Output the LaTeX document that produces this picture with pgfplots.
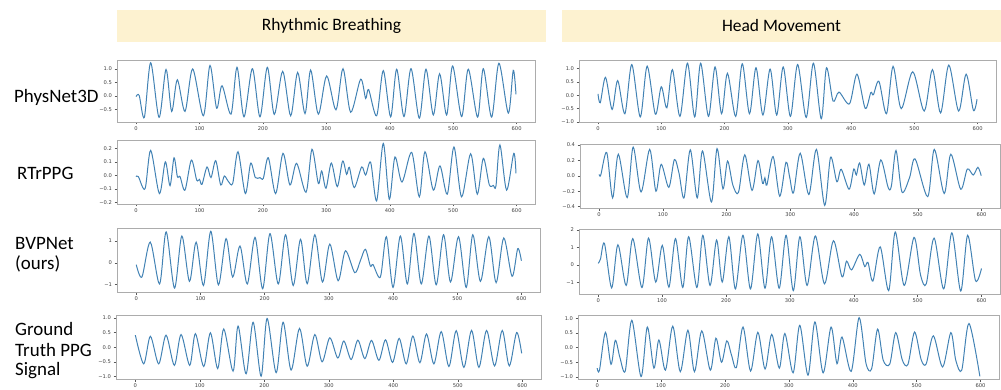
\documentclass[border=0pt]{standalone}
\usepackage{fontspec}
\setmainfont{Carlito}
\newfontfamily\tickfont{DejaVu Sans}
\usepackage{pgfplots}
\pgfplotsset{compat=1.18}
\definecolor{mplblue}{RGB}{66,130,180}
\definecolor{beige}{RGB}{253,242,208}
\tikzset{sig/.style={mplblue, line width=1bp, smooth, mark=none}}
\pgfplotsset{
  mini/.style={
    scale only axis, anchor=south west,
    xmin=-30, xmax=629,
    xtick={0,100,200,300,400,500,600},
    xticklabels={0,100,200,300,400,500,600},
    axis line style={gray!65, line width=0.6pt},
    tick style={gray!70!black, line width=0.4pt},
    tick align=outside, major tick length=2.5bp,
    xtick pos=bottom, ytick pos=left,
    ticklabel style={font=\tickfont\fontsize{5.2}{6}\selectfont, text=black!75},
    xticklabel style={yshift=1bp},
    yticklabel style={xshift=1bp},
  }
}
\begin{document}
\begin{tikzpicture}[x=1bp,y=1bp]
\path[use as bounding box] (0,0) rectangle (1001,389);
\fill[beige] (117,347) rectangle (546,379);
\fill[beige] (562,347) rectangle (1001,379);
\node[font=\fontsize{17.5}{20}\selectfont] at (331.5,363) {Rhythmic Breathing};
\node[font=\fontsize{17.5}{20}\selectfont] at (781.5,363) {Head Movement};

\begin{scope}[every node/.style={anchor=west, font=\fontsize{19}{22}\selectfont, inner sep=0pt}]
\node at (14,292) {PhysNet3D};
\node at (17,216) {RTrPPG};
\node at (15,146) {BVPNet};
\node at (15,125) {(ours)};
\node at (15,60) {Ground};
\node at (15,39) {Truth PPG};
\node at (15,18) {Signal};
\end{scope}

% Row 1 left: PhysNet3D, Rhythmic Breathing
\begin{axis}[mini, at={(117bp,267bp)}, width=418bp, height=62bp,
  ymin=-0.96, ymax=1.33, ytick={-0.5,0,0.5,1}, yticklabels={−0.5,0.0,0.5,1.0}]
\addplot[sig] coordinates {(0,-0.02) (5,0.02) (13.1,-0.79) (23.1,1.23) (36.3,-0.79) (47.3,0.98) (56.2,-0.57) (65.1,0.60) (77.2,-0.57) (89.3,1.00) (106.1,-0.73) (116.6,1.13) (127.1,-0.45) (135.6,0.38) (149.7,-0.67) (159.2,1.06) (170.2,-0.77) (183.4,1.01) (195.4,-0.77) (207,1.06) (218,-0.68) (231.2,0.91) (243.8,-0.73) (254.8,0.87) (266.4,-0.65) (275.3,0.96) (287.4,-0.67) (300.5,0.74) (315.2,-0.51) (326.3,1.01) (338.4,-0.60) (354.1,0.62) (362,-0.09) (366.7,0.24) (379.3,-0.73) (389.8,0.94) (401.4,-0.77) (410.9,0.99) (422.4,-0.76) (433.5,1.01) (446.6,-0.82) (457.1,0.99) (468.7,-0.70) (478.6,0.82) (489.7,-0.70) (499.1,1.11) (513.3,-0.76) (523.8,0.99) (538.5,-0.78) (547.5,1.01) (560.6,-0.78) (572.1,1.21) (586.9,-0.63) (594.7,0.95) (599,0.06)};
\end{axis}

% Row 1 right: PhysNet3D, Head Movement
\begin{axis}[mini, at={(579bp,267bp)}, width=417bp, height=62bp,
  ymin=-1.0, ymax=1.32, ytick={-1,-0.5,0,0.5,1}, yticklabels={−1.0,−0.5,0.0,0.5,1.0}]
\addplot[sig] coordinates {(0,0.05) (3.6,-0.28) (11.9,0.67) (22.3,-0.53) (31.1,0.55) (42.5,-0.69) (53.4,1.15) (66.8,-0.81) (77.7,1.09) (90.7,-0.71) (100,0.32) (108.8,-0.47) (117.6,0.96) (129.5,-0.79) (141.4,1.20) (152.8,-0.81) (162.2,1.20) (174.6,-0.79) (185,1.06) (195.3,-0.69) (204.6,0.82) (217.6,-0.79) (228,1.18) (239.4,-0.69) (249.7,1.03) (260.6,-0.74) (272,0.98) (282.4,-0.74) (292.7,1.06) (304.1,-0.79) (315.5,1.15) (329,-0.83) (340.4,1.20) (352.8,-0.88) (361.1,1.03) (371.5,-0.22) (380.8,0.12) (397.4,-0.32) (409.3,0.79) (422.3,-0.49) (431.1,0.10) (435.2,0.02) (444,0.52) (455.9,-0.69) (466.3,1.08) (479.2,-0.50) (497.4,0.88) (515.5,-0.59) (528.5,0.96) (541.4,-0.66) (554.4,1.13) (569.9,-0.59) (581.8,0.79) (593.2,-0.56) (599,-0.15)};
\end{axis}

% Row 2 left: RTrPPG
\begin{axis}[mini, at={(117bp,185bp)}, width=418bp, height=64bp,
  ymin=-0.213, ymax=0.262, ytick={-0.2,-0.1,0,0.1,0.2}, yticklabels={−0.2,−0.1,0.0,0.1,0.2}]
\addplot[sig] coordinates {(0,-0.01) (3.7,-0.01) (14.2,-0.10) (23.1,0.185) (36.8,-0.136) (46.2,0.10) (53.6,-0.077) (59.9,0.13) (65.2,-0.01) (69.4,-0.01) (77.2,-0.11) (87.2,0.113) (95.6,-0.035) (100,-0.03) (104,-0.067) (111.9,0.062) (118.2,-0.017) (125.6,0.109) (133.5,-0.072) (139.2,-0.005) (145.5,-0.045) (152.4,-0.06) (160.8,0.175) (172.3,-0.136) (180.7,0.09) (188.1,-0.017) (195.4,-0.017) (200.7,-0.022) (208.6,0.13) (220.1,-0.136) (231.7,0.163) (242.7,-0.072) (253.2,0.089) (268,-0.126) (277.4,0.193) (287.4,-0.06) (292.7,0.032) (299.5,-0.096) (307.9,0.091) (317.3,-0.084) (325.7,0.106) (332,0.007) (336.3,0.059) (344.1,-0.091) (355.7,0.062) (362,0.002) (369.9,0.096) (379.3,-0.19) (389.8,0.237) (399.3,-0.178) (408.2,0.136) (419.3,-0.05) (434.5,0.17) (446.6,-0.16) (455.5,0.175) (468.7,-0.11) (479.2,0.07) (490.7,-0.14) (501.2,0.21) (513.3,-0.16) (527.5,0.16) (538,-0.14) (547.5,0.126) (556.9,-0.07) (563.2,-0.075) (567.4,-0.08) (573.7,0.225) (584.2,-0.11) (595.5,0.163) (599,0.015)};
\end{axis}

% Row 2 right
\begin{axis}[mini, at={(580bp,181bp)}, width=420bp, height=64bp,
  ymin=-0.417, ymax=0.41, ytick={-0.4,-0.2,0,0.2,0.4}, yticklabels={−0.4,−0.2,0.0,0.2,0.4}]
\addplot[sig] coordinates {(0,0.017) (2.6,0.01) (11.9,0.30) (21.2,-0.287) (30.1,0.278) (44,-0.283) (53.4,0.37) (65.8,-0.21) (79.3,0.34) (89.1,-0.20) (97.4,0.148) (109.3,-0.15) (118.1,0.209) (125.4,0.03) (133.2,-0.287) (143,0.335) (153.9,-0.287) (162.2,0.32) (176.2,-0.34) (185,0.35) (194.3,-0.17) (201.5,0.19) (209.8,-0.12) (218.6,-0.217) (228.5,0.27) (239.9,-0.19) (249.2,0.196) (256.5,-0.10) (260.1,-0.026) (263.2,-0.12) (273,0.248) (283.4,-0.265) (293.2,0.174) (299,-0.02) (305,-0.22) (315.5,0.29) (329,-0.243) (340.9,0.34) (353.9,-0.383) (363.2,0.24) (373,-0.078) (379.8,0.083) (392.2,-0.174) (399.5,0.087) (403.6,0.01) (408.8,0.165) (416,-0.12) (423.3,0.15) (431.6,-0.235) (441.9,0.204) (453.3,-0.148) (458.5,-0.135) (465.8,0.326) (475.1,-0.21) (487,-0.026) (495.8,0.217) (515.5,-0.27) (525.9,0.34) (541.4,-0.23) (551.8,0.278) (567.3,-0.174) (577.7,0.087) (587,0.009) (594.3,0.109) (599.5,0.0)};
\end{axis}

% Row 3 left: BVPNet
\begin{axis}[mini, at={(117bp,97bp)}, width=423bp, height=64bp,
  ymin=-1.35, ymax=1.6, ytick={-1,0,1}, yticklabels={−1,0,1}]
\addplot[sig] coordinates {(0,-0.09) (8.8,-0.66) (21.8,0.95) (36.3,-0.98) (46.6,1.42) (59.6,-1.17) (71,1.23) (82.9,-0.86) (93.3,0.95) (104.7,-1.05) (116.1,1.45) (128,-1.02) (139.9,1.11) (150.2,-0.66) (161.6,0.77) (173,-0.98) (185,1.17) (196.9,-1.2) (208.3,1.34) (221.2,-0.98) (232.6,1.29) (244.5,-1.05) (255.9,1.08) (266.3,-0.97) (278.2,1.29) (290.1,-0.89) (301.5,0.86) (314.5,-0.83) (325.9,0.55) (340.4,-0.46) (349.2,0.10) (357,0.62) (364.7,-0.15) (368.9,-0.09) (380.3,-0.66) (389.6,1.2) (400,-1.14) (411.4,1.23) (422.3,-0.98) (432.6,1.35) (444,-0.98) (455.9,1.23) (467.3,-1.02) (478.7,1.29) (489.6,-0.89) (502,1.2) (514,-1.14) (524.3,1.29) (536.2,-0.86) (549.2,1.2) (560.6,-0.92) (572.5,1.14) (585.5,-0.63) (594.3,0.65) (600,0.09)};
\end{axis}

% Row 3 right
\begin{axis}[mini, at={(579bp,95bp)}, width=421bp, height=65bp,
  ymin=-1.67, ymax=2.05, ytick={-1,0,1,2}, yticklabels={−1,0,1,2}]
\addplot[sig] coordinates {(0,0.08) (3.6,0.33) (9.8,1.22) (21.1,-1.32) (30.9,1.15) (43.8,-1.18) (54.1,1.5) (68.5,-1.3) (78.8,1.53) (90.1,-0.99) (100.4,1.11) (110.7,-1.28) (121,1.5) (132.4,-1.3) (141.6,1.61) (154.5,-1.3) (163.8,1.69) (175.1,-1.18) (185.4,1.42) (194.2,-0.99) (204.5,1.61) (214.8,-1.38) (226.6,1.69) (238.4,-1.38) (249.8,1.77) (261.1,-1.34) (271.4,1.61) (283.3,-1.34) (294.1,1.69) (305.4,-1.48) (315.7,1.61) (327,-1.18) (339.9,1.65) (354.3,-1.09) (368.2,1.38) (381.6,-0.68) (388.8,0.21) (396.6,-0.29) (409.4,0.6) (417.2,-0.1) (422.3,0.14) (430,-0.93) (441.4,1.03) (454.7,-1.48) (465,1.88) (479,-1.18) (494.4,1.57) (504.7,-0.6) (513.5,-1.09) (525.8,1.53) (540.8,-1.38) (553.6,1.83) (567.5,-1.5) (578.3,1.69) (590.7,-0.91) (600,-0.21)};
\end{axis}

% Row 4 left: Ground truth
\begin{axis}[mini, at={(116bp,10bp)}, width=425bp, height=64bp,
  ymin=-1.086, ymax=1.097, ytick={-1,-0.5,0,0.5,1}, yticklabels={−1.0,−0.5,0.0,0.5,1.0}]
\addplot[sig] coordinates {(0,0.41) (12.9,-0.57) (23.3,0.37) (36.2,-0.57) (47.6,0.41) (60.5,-0.62) (70.9,0.43) (84.3,-0.62) (93.1,0.46) (106,-0.66) (116.4,0.49) (127.7,-0.73) (137.1,0.62) (151.5,-0.82) (159.3,0.72) (171.7,-0.91) (182.6,0.85) (195,-0.99) (204.3,0.98) (218.3,-0.87) (229.1,0.85) (241.5,-0.78) (254.5,0.64) (266.4,-0.65) (278.3,0.43) (289.6,-0.5) (301.5,0.32) (313.9,-0.37) (323.3,0.21) (334.6,-0.42) (345,0.24) (355.8,-0.39) (366.2,0.23) (377.6,-0.45) (387.9,0.25) (398.8,-0.52) (409.1,0.3) (420,-0.57) (430.3,0.38) (441.2,-0.53) (451.5,0.45) (462.9,-0.57) (474.3,0.53) (486.2,-0.66) (497.5,0.56) (509.4,-0.69) (521.3,0.57) (532.7,-0.69) (544.6,0.57) (557,-0.64) (568.9,0.57) (579.8,-0.64) (591.2,0.5) (599,-0.21)};
\end{axis}

% Row 4 right
\begin{axis}[mini, at={(578bp,10bp)}, width=421bp, height=64bp,
  ymin=-1.07, ymax=1.11, ytick={-1,-0.5,0,0.5,1}, yticklabels={−1.0,−0.5,0.0,0.5,1.0}]
\addplot[sig] coordinates {(0,-0.7) (3.6,-0.77) (12.9,0.52) (21.7,-0.57) (28.4,0.25) (35.6,-0.34) (43.9,-0.8) (54.2,0.93) (68.7,-0.99) (78.5,0.7) (88.8,-0.7) (96.6,0.26) (106.9,-0.77) (118.3,0.73) (130.1,-0.82) (142,0.59) (152.3,-0.82) (163.7,0.57) (177.1,-0.77) (185.9,0.32) (194.7,-0.5) (202.9,0.23) (210.2,-0.25) (217.9,-0.68) (228.3,0.7) (240.1,-0.8) (251.5,0.52) (262.8,-0.73) (273.2,0.45) (285.1,-0.7) (293.8,0.48) (306.7,-0.86) (317.1,0.76) (330,-0.94) (340.8,0.875) (353.7,-0.86) (366.1,0.7) (375.4,-0.55) (383.2,0.36) (397.6,-0.81) (410,1.02) (420.9,-0.55) (429.6,-0.72) (438.9,0.63) (447.7,-0.43) (458,-0.56) (467.3,0.51) (477.7,-0.43) (486.5,-0.57) (496.8,0.53) (507.1,-0.41) (514.9,-0.56) (526.2,0.4) (540.7,-0.66) (553.6,0.51) (561.3,-0.43) (570.6,-0.77) (582,0.82) (599,-0.98)};
\end{axis}
\end{tikzpicture}
\end{document}
